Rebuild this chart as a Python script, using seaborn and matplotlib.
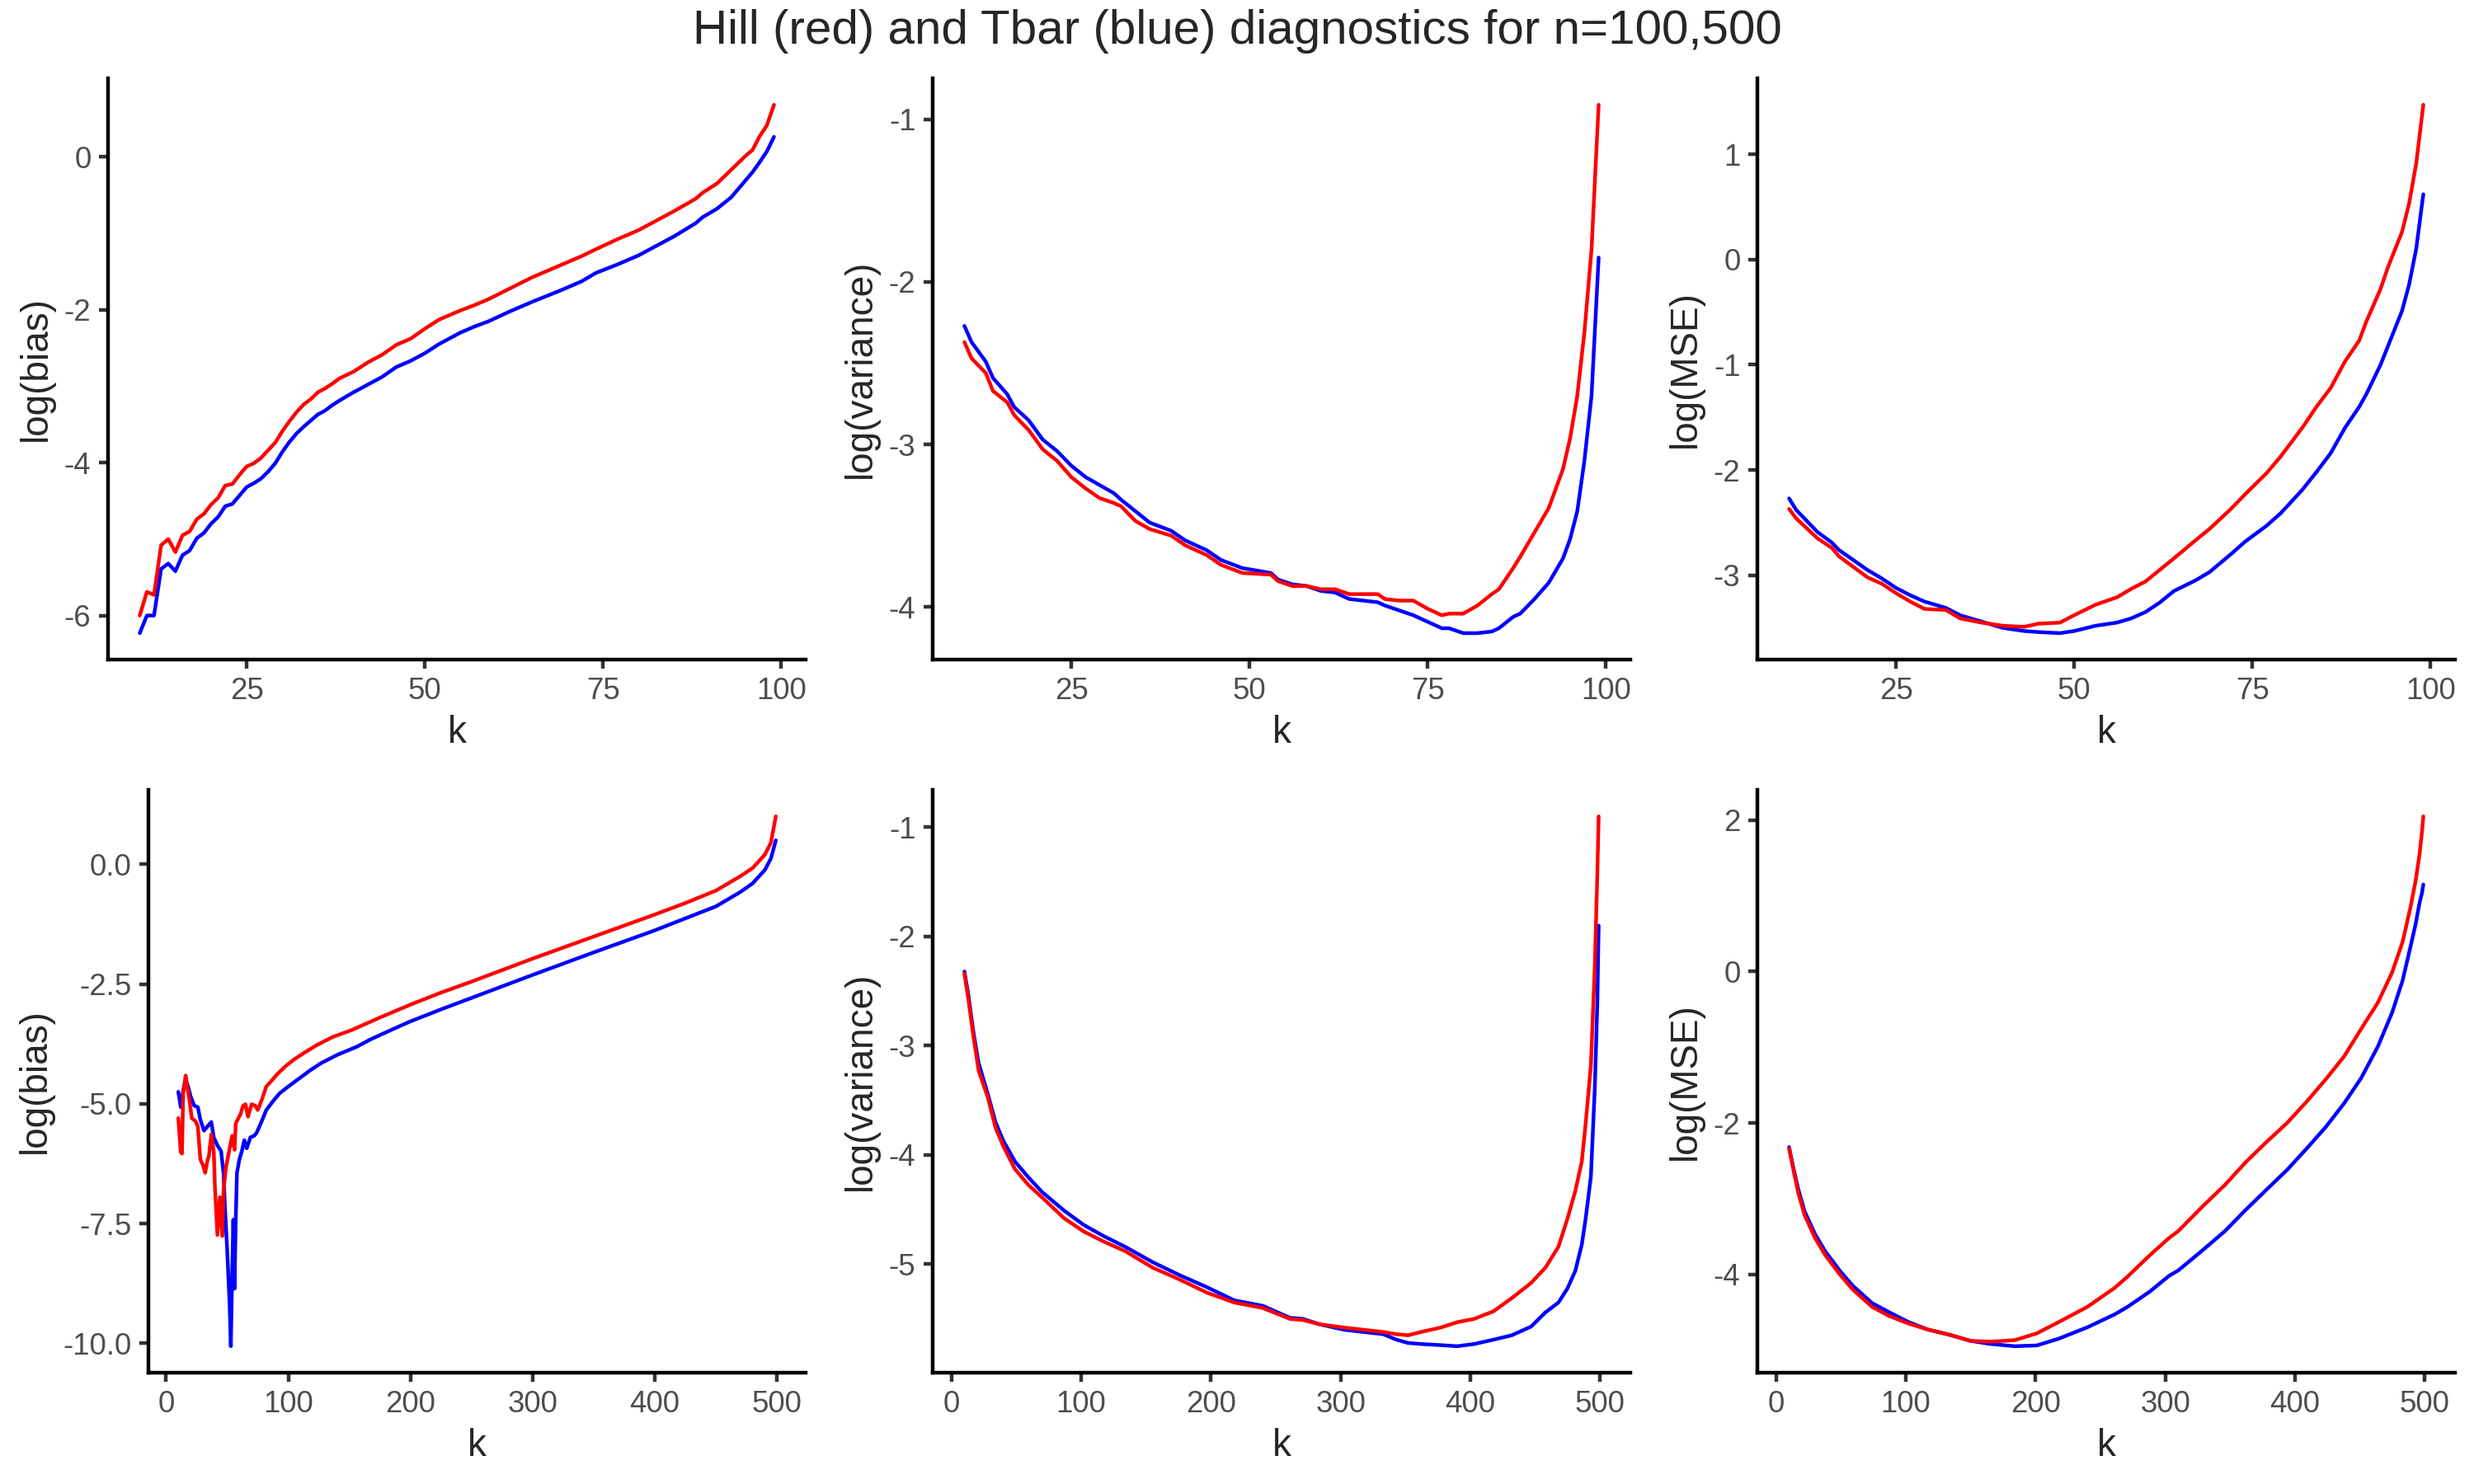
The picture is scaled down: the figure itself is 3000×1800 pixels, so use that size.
import matplotlib
matplotlib.use("Agg")
import matplotlib.pyplot as plt
import seaborn as sns

# ---- n = 100 ----
k100_bias = [10, 11, 12, 13, 14, 15, 16, 17, 18, 19, 20, 21, 22, 23, 24, 25, 26, 27, 28, 29,
             30, 31, 32, 33, 34, 35, 36, 37, 38, 40, 42, 44, 46, 48, 50, 52, 55, 57, 59, 62,
             65, 69, 72, 74, 77, 80, 82, 85, 88, 89, 91, 93, 95, 96, 97, 98, 99]
hill_bias100 = [-6.00, -5.69, -5.73, -5.08, -5.00, -5.17, -4.95, -4.90, -4.74, -4.67, -4.55, -4.46,
                -4.30, -4.28, -4.16, -4.05, -4.01, -3.94, -3.84, -3.74, -3.59, -3.46, -3.34, -3.24,
                -3.17, -3.08, -3.03, -2.97, -2.90, -2.81, -2.69, -2.59, -2.46, -2.38, -2.25, -2.13,
                -2.01, -1.94, -1.86, -1.72, -1.58, -1.42, -1.30, -1.21, -1.08, -0.96, -0.86, -0.71,
                -0.55, -0.47, -0.35, -0.17, 0.01, 0.09, 0.27, 0.41, 0.68]
tbar_bias100 = [-6.23, -6.00, -6.00, -5.39, -5.32, -5.42, -5.21, -5.15, -4.99, -4.92, -4.80, -4.71,
                -4.57, -4.54, -4.43, -4.32, -4.27, -4.21, -4.12, -4.01, -3.86, -3.73, -3.62, -3.53,
                -3.45, -3.37, -3.32, -3.25, -3.19, -3.08, -2.98, -2.88, -2.75, -2.67, -2.57, -2.45,
                -2.30, -2.22, -2.15, -2.02, -1.90, -1.75, -1.63, -1.52, -1.41, -1.29, -1.19, -1.04,
                -0.87, -0.79, -0.68, -0.53, -0.31, -0.20, -0.07, 0.07, 0.26]

k100_var = [10, 11, 13, 14, 16, 17, 19, 21, 23, 25, 27, 29, 31, 32, 34, 36, 39, 41, 44, 46,
            49, 53, 54, 56, 58, 60, 62, 64, 66, 68, 69, 71, 73, 75, 77, 78, 80, 82, 84, 85,
            87, 88, 90, 92, 94, 95, 96, 97, 98, 99]
hill_var100 = [-2.37, -2.47, -2.56, -2.67, -2.74, -2.82, -2.91, -3.03, -3.10, -3.20, -3.27, -3.33,
               -3.36, -3.38, -3.47, -3.52, -3.56, -3.62, -3.68, -3.74, -3.79, -3.80, -3.84, -3.87,
               -3.87, -3.89, -3.89, -3.92, -3.92, -3.92, -3.95, -3.96, -3.96, -4.01, -4.05, -4.04,
               -4.04, -3.99, -3.92, -3.89, -3.76, -3.69, -3.54, -3.39, -3.15, -2.96, -2.70, -2.31,
               -1.80, -0.91]
tbar_var100 = [-2.27, -2.37, -2.49, -2.59, -2.69, -2.77, -2.85, -2.97, -3.04, -3.13, -3.20, -3.25,
               -3.30, -3.34, -3.41, -3.48, -3.53, -3.59, -3.65, -3.71, -3.76, -3.79, -3.83, -3.86,
               -3.87, -3.90, -3.91, -3.95, -3.96, -3.97, -3.99, -4.02, -4.05, -4.09, -4.13, -4.13,
               -4.16, -4.16, -4.15, -4.13, -4.06, -4.04, -3.95, -3.85, -3.70, -3.58, -3.41, -3.10,
               -2.70, -1.85]

k100_mse = [10, 11, 14, 16, 17, 21, 23, 25, 27, 29, 32, 34, 37, 40, 43, 45, 48, 50, 53, 56,
            58, 60, 62, 64, 67, 69, 72, 74, 77, 79, 82, 84, 86, 88, 90, 91, 93, 94, 96, 97,
            98, 99]
hill_mse100 = [-2.37, -2.46, -2.65, -2.74, -2.82, -3.02, -3.08, -3.17, -3.25, -3.32, -3.33, -3.41,
               -3.45, -3.48, -3.49, -3.46, -3.45, -3.38, -3.28, -3.21, -3.13, -3.06, -2.95, -2.84,
               -2.67, -2.56, -2.37, -2.23, -2.03, -1.87, -1.60, -1.40, -1.22, -0.97, -0.77, -0.59,
               -0.28, -0.08, 0.26, 0.53, 0.91, 1.47]
tbar_mse100 = [-2.27, -2.38, -2.59, -2.69, -2.76, -2.95, -3.03, -3.12, -3.19, -3.25, -3.31, -3.38,
               -3.44, -3.50, -3.53, -3.54, -3.55, -3.53, -3.48, -3.45, -3.41, -3.35, -3.26, -3.15,
               -3.05, -2.97, -2.80, -2.68, -2.53, -2.41, -2.19, -2.02, -1.84, -1.60, -1.40, -1.28,
               -1.00, -0.83, -0.49, -0.24, 0.10, 0.62]

# ---- n = 500 ----
k500_bias_hill = [10, 12, 13, 14, 16, 17, 19, 21, 24, 26, 28, 30, 32, 34, 35, 37, 39, 40, 42, 44,
                  46, 47, 49, 52, 54, 56, 57, 61, 63, 65, 67, 70, 73, 75, 79, 82, 87, 91, 98, 105,
                  114, 123, 136, 152, 175, 200, 225, 250, 275, 300, 325, 350, 375, 400, 425, 450,
                  470, 480, 490, 495, 499]
hill_bias500 = [-5.30, -6.01, -6.04, -4.78, -4.41, -4.61, -4.90, -5.30, -5.36, -5.47, -6.16, -6.27,
                -6.44, -6.16, -6.10, -5.64, -5.99, -6.76, -7.74, -6.95, -7.76, -6.79, -6.33, -5.93,
                -5.67, -5.96, -5.41, -5.21, -5.04, -5.01, -5.27, -5.01, -5.04, -5.13, -4.87, -4.64,
                -4.50, -4.38, -4.21, -4.07, -3.92, -3.78, -3.61, -3.46, -3.20, -2.93, -2.68, -2.45,
                -2.21, -1.97, -1.74, -1.51, -1.28, -1.05, -0.81, -0.55, -0.25, -0.08, 0.20, 0.45,
                1.00]
k500_bias_tbar = [10, 12, 14, 16, 18, 20, 23, 26, 28, 31, 34, 37, 39, 42, 45, 47, 48, 50, 52, 53,
                  54, 55, 56, 57, 58, 60, 62, 64, 66, 69, 72, 74, 78, 82, 88, 93, 100, 109, 118, 127,
                  140, 156, 167, 185, 200, 225, 250, 275, 300, 350, 400, 450, 470, 480, 490, 495, 499]
tbar_bias500 = [-4.75, -5.07, -4.72, -4.50, -4.64, -4.84, -5.04, -5.07, -5.33, -5.56, -5.47, -5.38,
                -5.70, -5.87, -5.99, -6.44, -7.08, -8.05, -9.20, -10.06, -8.63, -7.42, -8.86, -7.42,
                -6.44, -6.16, -5.99, -5.76, -5.93, -5.70, -5.67, -5.61, -5.38, -5.13, -4.93, -4.78,
                -4.64, -4.47, -4.30, -4.15, -3.98, -3.81, -3.66, -3.45, -3.28, -3.03, -2.79, -2.55,
                -2.31, -1.84, -1.38, -0.88, -0.58, -0.40, -0.12, 0.12, 0.50]

k500_var = [10, 13, 17, 21, 28, 34, 40, 49, 59, 70, 87, 102, 117, 134, 155, 176, 197, 218, 240, 261,
            271, 284, 303, 318, 333, 343, 352, 362, 377, 390, 403, 418, 432, 447, 458, 468, 475, 481,
            486, 489, 493, 496, 498, 499]
hill_var500 = [-2.34, -2.57, -2.92, -3.23, -3.47, -3.75, -3.92, -4.13, -4.27, -4.39, -4.58, -4.70,
               -4.79, -4.88, -5.03, -5.14, -5.26, -5.35, -5.40, -5.50, -5.51, -5.55, -5.58, -5.60,
               -5.62, -5.64, -5.65, -5.62, -5.58, -5.53, -5.50, -5.43, -5.31, -5.17, -5.03, -4.84,
               -4.58, -4.33, -4.06, -3.71, -3.18, -2.28, -1.42, -0.90]
tbar_var500 = [-2.32, -2.53, -2.88, -3.16, -3.44, -3.70, -3.87, -4.06, -4.20, -4.34, -4.51, -4.64,
               -4.74, -4.84, -4.98, -5.10, -5.21, -5.33, -5.38, -5.49, -5.50, -5.55, -5.60, -5.62,
               -5.64, -5.69, -5.72, -5.73, -5.74, -5.75, -5.73, -5.69, -5.65, -5.57, -5.44, -5.35,
               -5.22, -5.06, -4.82, -4.58, -4.20, -3.40, -2.60, -1.90]

k500_mse = [10, 13, 17, 22, 30, 38, 49, 59, 74, 87, 102, 117, 134, 150, 165, 184, 201, 218, 240, 261,
            271, 288, 303, 310, 329, 346, 362, 377, 394, 409, 424, 438, 451, 464, 475, 483, 489, 493,
            496, 498, 499]
hill_mse500 = [-2.34, -2.59, -2.92, -3.22, -3.52, -3.75, -4.00, -4.20, -4.43, -4.55, -4.65, -4.73,
               -4.80, -4.88, -4.89, -4.87, -4.78, -4.63, -4.43, -4.18, -4.03, -3.75, -3.52, -3.43,
               -3.10, -2.82, -2.52, -2.27, -2.00, -1.72, -1.42, -1.12, -0.76, -0.41, -0.01, 0.39,
               0.84, 1.19, 1.54, 1.85, 2.05]
tbar_mse500 = [-2.32, -2.57, -2.87, -3.17, -3.47, -3.70, -3.95, -4.15, -4.38, -4.50, -4.63, -4.73,
               -4.80, -4.88, -4.92, -4.95, -4.94, -4.85, -4.70, -4.53, -4.43, -4.23, -4.02, -3.95,
               -3.68, -3.43, -3.15, -2.90, -2.62, -2.34, -2.05, -1.74, -1.41, -0.99, -0.54, -0.12,
               0.32, 0.62, 0.90, 1.04, 1.15]

title = "Hill (red) and Tbar (blue) diagnostics for n=100,500"

panels = [
    # (row, col, hill k, hill y, tbar k, tbar y, ylabel, yticks, xticks, yfmt)
    (0, 0, k100_bias, hill_bias100, k100_bias, tbar_bias100, "log(bias)", [-6, -4, -2, 0], [25, 50, 75, 100], "{:g}"),
    (0, 1, k100_var, hill_var100, k100_var, tbar_var100, "log(variance)", [-4, -3, -2, -1], [25, 50, 75, 100], "{:g}"),
    (0, 2, k100_mse, hill_mse100, k100_mse, tbar_mse100, "log(MSE)", [-3, -2, -1, 0, 1], [25, 50, 75, 100], "{:g}"),
    (1, 0, k500_bias_hill, hill_bias500, k500_bias_tbar, tbar_bias500, "log(bias)", [-10, -7.5, -5, -2.5, 0], [0, 100, 200, 300, 400, 500], "{:.1f}"),
    (1, 1, k500_var, hill_var500, k500_var, tbar_var500, "log(variance)", [-5, -4, -3, -2, -1], [0, 100, 200, 300, 400, 500], "{:g}"),
    (1, 2, k500_mse, hill_mse500, k500_mse, tbar_mse500, "log(MSE)", [-4, -2, 0, 2], [0, 100, 200, 300, 400, 500], "{:g}"),
]

sns.set_style("ticks")
plt.rcParams["font.family"] = ["Liberation Sans", "DejaVu Sans"]
plt.rcParams["axes.unicode_minus"] = False

W, H = 3000, 1800
fig = plt.figure(figsize=(10, 6), dpi=300)

# panel boxes in pixels (left, top, right, bottom) -- ggplot-like layout
row_tb = [(95, 800), (958, 1665)]
lefts = {(0, 0): 131, (0, 1): 1131, (0, 2): 2131, (1, 0): 180, (1, 1): 1131, (1, 2): 2131}

for row, col, kh, yh, kt, yt, ylab, yticks, xticks, yfmt in panels:
    top, bottom = row_tb[row]
    left = lefts[(row, col)]
    right = 977 + 1000 * col
    ax = fig.add_axes([left / W, 1 - bottom / H, (right - left) / W, (bottom - top) / H])

    sns.lineplot(x=kt, y=yt, ax=ax, color="blue", linewidth=1.07, estimator=None)
    sns.lineplot(x=kh, y=yh, ax=ax, color="red", linewidth=1.07, estimator=None)

    ax.margins(x=0.05, y=0.05)
    ax.set_xticks(xticks)
    ax.set_yticks(yticks)
    ax.set_yticklabels([yfmt.format(v) for v in yticks])
    ax.set_xlabel("k", fontsize=11, labelpad=2.75)
    ax.set_ylabel(ylab, fontsize=11, labelpad=2.75)
    ax.tick_params(axis="both", labelsize=8.8, labelcolor="#4D4D4D", color="#333333",
                   width=1.07, length=2.75, pad=2.2)
    for s in ["top", "right"]:
        ax.spines[s].set_visible(False)
    for s in ["left", "bottom"]:
        ax.spines[s].set_linewidth(1.07)
        ax.spines[s].set_color("black")
    ax.grid(False)

fig.text(0.5, 1 - 38 / H, title, ha="center", va="center", fontsize=14)

fig.savefig("out.png", dpi=300, facecolor="white")
